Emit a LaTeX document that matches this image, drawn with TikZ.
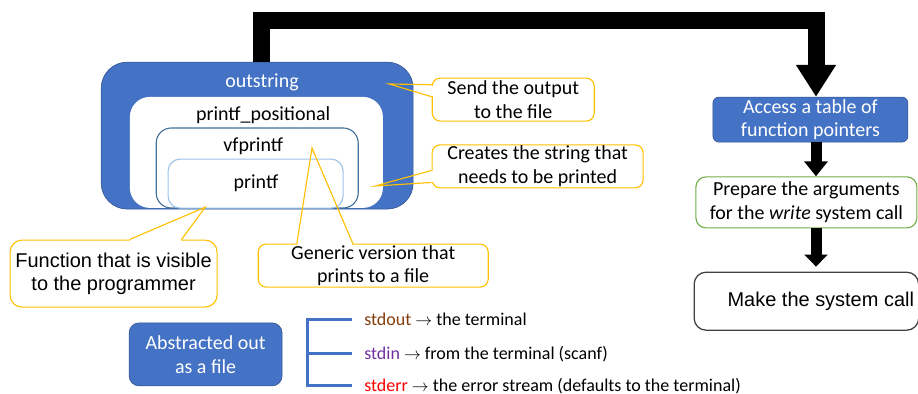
\documentclass[tikz,border=0pt]{standalone}
\usepackage{fontspec}
\setmainfont{Carlito}
\newfontfamily\arialfont{Liberation Sans}
\usetikzlibrary{arrows.meta,positioning,calc}
\definecolor{officeblue}{HTML}{4472C4}
\definecolor{darkblue}{HTML}{2F528F}
\definecolor{steelblue}{HTML}{41719C}
\definecolor{paleblue}{HTML}{9DC3E6}
\definecolor{gold}{HTML}{FFC000}
\definecolor{leafgreen}{HTML}{70AD47}
\definecolor{outbrown}{HTML}{843C0C}
\definecolor{inpurple}{HTML}{7030A0}

\begin{document}
\begin{tikzpicture}[>=Stealth,font=\fontsize{14.2}{16.8}\selectfont,
  callout/.style={draw=gold,line width=0.8pt,rounded corners=0.2cm,align=center,inner sep=0pt},
  wedge/.style={draw=gold,line width=0.8pt},
  gapfill/.style={draw=white,line width=1.6pt},
  flow/.style={line width=0.275cm,-{Triangle[width=0.575cm,length=0.375cm]}},
  stream/.style={anchor=base west,inner sep=0pt,font=\fontsize{12.8}{15}\selectfont}]
\useasboundingbox (0,0) rectangle (22.95,-9.85);
% nested function boxes
\node[draw=darkblue,fill=officeblue,rounded corners=0.65cm,minimum width=7.80cm,minimum height=3.675cm] (outer) at (6.43,-3.39) {};
\node[fill=white,rounded corners=0.50cm,minimum width=6.325cm,minimum height=2.775cm] (posbox) at (6.41,-3.81) {};
\node[draw=steelblue,fill=white,line width=0.8pt,rounded corners=0.375cm,minimum width=5.05cm,minimum height=2.0cm] (vfbox) at (6.43,-4.20) {};
\node[draw=paleblue,fill=white,line width=0.8pt,rounded corners=0.30cm,minimum width=4.375cm,minimum height=1.225cm] (pfbox) at (6.39,-4.59) {};
\node[text=white] (outname) at (6.55,-2.05) {outstring};
\node (posname) at (6.58,-2.88) {printf\_positional};
\node (vfname) at (6.33,-3.65) {vfprintf};
\node (pfname) at (6.40,-4.58) {printf};
% callouts
\node[callout,minimum width=4.05cm,minimum height=1.075cm] (send) at (12.83,-2.49) {Send the output\\to the file};
\coordinate (sendtip) at (9.73,-2.10);
\draw[gapfill] ($(send.north west)+(0,-0.20)$) -- ($(send.north west)+(0,-0.46)$);
\draw[wedge] ($(send.north west)+(0,-0.18)$) -- (sendtip) -- ($(send.north west)+(0,-0.48)$);
\node[callout,minimum width=5.275cm,minimum height=1.075cm] (creates) at (13.44,-4.16) {Creates the string that\\needs to be printed};
\coordinate (createstip) at (9.38,-4.65);
\draw[gapfill] ($(creates.south west)+(0,0.43)$) -- ($(creates.south west)+(0,0.17)$);
\draw[wedge] ($(creates.south west)+(0,0.45)$) -- (createstip) -- ($(creates.south west)+(0,0.15)$);
\node[callout,rounded corners=0.3cm,minimum width=5.175cm,minimum height=1.675cm,font=\arialfont\fontsize{14.2}{16.4}\selectfont] (visible) at (2.84,-6.84) {Function that is visible\\to the programmer};
\coordinate (visibletip) at (5.13,-5.18);
\draw[gapfill] ($(visible.north west)+(3.02,0)$) -- ($(visible.north west)+(4.28,0)$);
\draw[wedge] ($(visible.north west)+(3.0,0)$) -- (visibletip) -- ($(visible.north west)+(4.3,0)$);
\node[callout,minimum width=5.75cm,minimum height=1.075cm] (generic) at (9.33,-6.64) {Generic version that\\prints to a file};
\coordinate (generictip) at (7.80,-3.70);
\draw[gapfill] ($(generic.north west)+(1.0,0)$) -- ($(generic.north west)+(2.36,0)$);
\draw[wedge] ($(generic.north west)+(0.98,0)$) -- (generictip) -- ($(generic.north west)+(2.38,0)$);
% call chain
\coordinate (spine) at (20.40,0);
\node[draw=darkblue,fill=officeblue,rounded corners=0.15cm,minimum width=4.875cm,minimum height=1.125cm,text=white,align=center,inner sep=0pt] (access) at (20.26,-2.99) {Access a table of\\function pointers};
\node[draw=leafgreen,line width=0.8pt,rounded corners=0.25cm,minimum width=5.525cm,minimum height=1.275cm,align=center,inner sep=0pt] (prepare) at (20.16,-5.06) {Prepare the arguments\\for the \textit{write} system call};
\node[draw=black!75,line width=0.9pt,rounded corners=0.3cm,minimum width=5.525cm,minimum height=1.45cm,font=\arialfont\fontsize{14.2}{16.4}\selectfont] (make) at (20.16,-7.53) {\hspace{0.72cm}Make the system call};
\draw[line width=0.425cm,-{Triangle[width=0.95cm,length=0.8cm]}] ([xshift=0.1cm]outer.north) -- ++(0,1.03) -| (access.north -| spine);
\draw[flow] (access.south -| spine) -- (prepare.north -| spine);
\draw[flow,shorten >=0.125cm,-{Triangle[width=0.575cm,length=0.3cm]}] (prepare.south -| spine) -- (make.north -| spine);
% standard streams
\node[draw=darkblue,fill=officeblue,rounded corners=0.25cm,minimum width=3.825cm,minimum height=1.575cm,text=white,align=center,inner sep=0pt] (abstract) at (5.14,-8.86) {Abstracted out\\as a file};
\node[stream] (stdout) at (9.10,-8.15) {\textcolor{outbrown}{stdout} $\rightarrow$ the terminal};
\node[stream] (stdin) at (9.10,-8.98) {\textcolor{inpurple}{stdin} $\rightarrow$ from the terminal (scanf)};
\node[stream] (stderr) at (9.10,-9.78) {\textcolor{red}{stderr} $\rightarrow$ the error stream (defaults to the terminal)};
\draw[draw=officeblue,line width=0.075cm] ([xshift=-0.3cm]stdout.west) -| ([xshift=-1.425cm]stderr.west) -- ([xshift=-0.3cm]stderr.west);
\draw[draw=officeblue,line width=0.075cm] ([xshift=-1.425cm]stdin.west) -- ([xshift=-0.3cm]stdin.west);
\end{tikzpicture}
\end{document}
